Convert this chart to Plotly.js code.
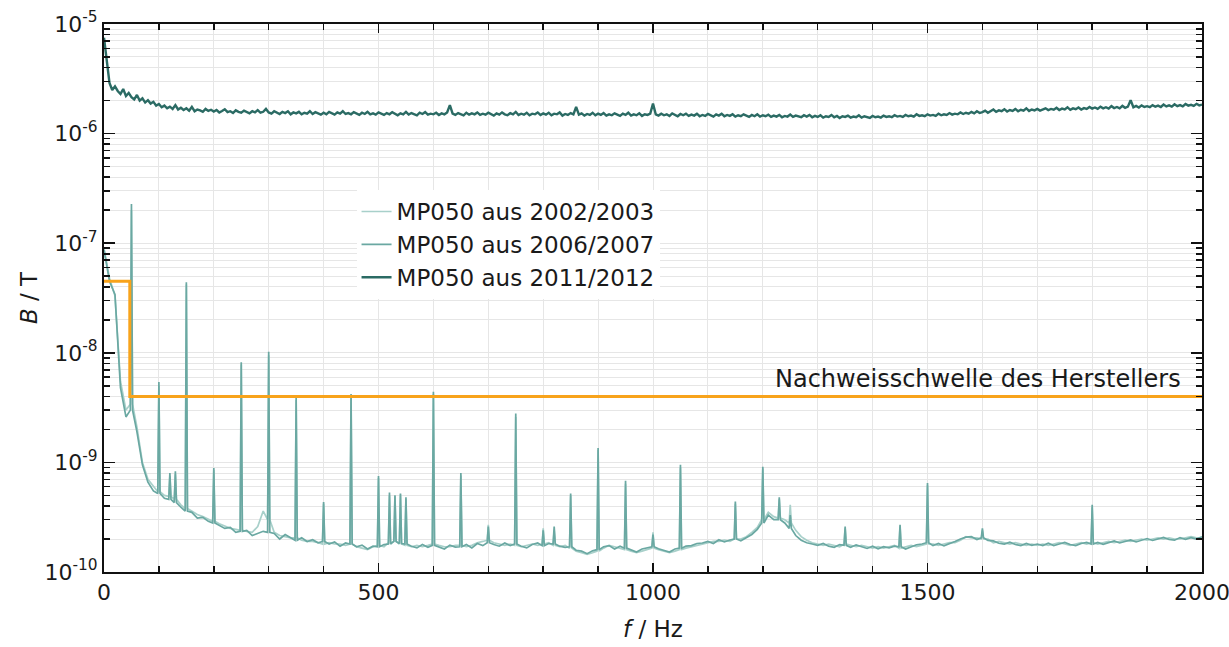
<!DOCTYPE html>
<html>
<head>
<meta charset="utf-8">
<script src="https://cdn.plot.ly/plotly-3.0.1.min.js"></script>
<style>html,body{margin:0;padding:0;background:#fff;}#chart{width:1229px;height:647px;}</style>
</head>
<body>
<div id="chart"></div>
<script>
// ---- data ----
// light series: baseline sampled every 10 Hz, values in units of 1e-10 T
const lightStepHz = 10;
const base2006_e10 = [
870,450,340,48,26,30,19,9.5,6.6,5.5,
5.2,4.7,4.6,4.3,3.9,3.6,3.5,3.1,3.15,2.9,
2.8,2.65,2.5,2.55,2.3,2.35,2.4,2.15,2.25,2.35,
2.3,2.25,2.0,2.2,2.05,1.95,2.05,1.9,1.97,1.85,
1.9,1.8,1.88,1.72,1.84,1.8,1.7,1.76,1.62,1.72,
1.7,1.78,1.8,1.9,1.82,1.8,1.72,1.66,1.78,1.68,
1.75,1.68,1.62,1.76,1.69,1.7,1.78,1.66,1.82,1.74,
1.85,1.78,1.72,1.84,1.74,1.8,1.72,1.66,1.78,1.84,
1.74,1.82,1.8,1.72,1.68,1.7,1.58,1.55,1.47,1.56,
1.6,1.7,1.74,1.62,1.72,1.65,1.58,1.52,1.62,1.66,
1.7,1.63,1.58,1.52,1.62,1.65,1.72,1.74,1.82,1.84,
1.9,1.82,1.97,1.88,1.96,2.0,1.93,2.07,2.2,2.45,
2.8,3.3,3.0,3.0,2.8,2.5,2.15,1.95,1.85,1.8,
1.75,1.82,1.72,1.68,1.78,1.75,1.68,1.77,1.7,1.64,
1.72,1.63,1.7,1.66,1.72,1.7,1.62,1.7,1.77,1.8,
1.85,1.74,1.82,1.73,1.8,1.9,2.0,2.08,2.1,1.98,
2.05,1.94,1.92,1.83,1.8,1.87,1.78,1.74,1.82,1.75,
1.8,1.74,1.83,1.74,1.8,1.86,1.78,1.74,1.82,1.86,
1.8,1.86,1.79,1.86,1.92,1.84,1.9,1.96,1.88,1.95,
2.02,1.94,2.0,2.07,1.98,1.95,2.06,1.99,2.06,2.0,
2.1];
const base2002_e10 = [
900,480,330,55,30,34,21,10,7.0,6.0,
5.4,5.0,4.9,4.6,4.1,3.8,3.6,3.35,3.2,3.0,
2.9,2.75,2.6,2.5,2.45,2.4,2.35,2.3,2.6,3.6,
3.0,2.3,2.15,2.1,2.05,2.05,1.95,1.9,1.9,1.85,
1.8,1.85,1.8,1.8,1.75,1.8,1.7,1.65,1.6,1.7,
1.75,1.7,1.85,1.9,1.8,1.75,1.7,1.75,1.7,1.75,
1.8,1.75,1.7,1.7,1.75,1.75,1.7,1.75,1.85,1.9,
1.95,1.85,1.8,1.75,1.8,1.75,1.7,1.75,1.8,1.75,
1.8,1.85,1.75,1.7,1.75,1.65,1.55,1.5,1.45,1.5,
1.55,1.65,1.75,1.7,1.65,1.6,1.55,1.5,1.55,1.6,
1.65,1.6,1.55,1.5,1.55,1.6,1.65,1.7,1.75,1.8,
1.85,1.9,1.9,1.95,1.9,2.0,2.0,2.1,2.3,2.55,
3.0,3.5,3.2,3.1,3.0,2.8,2.4,2.1,1.95,1.85,
1.8,1.75,1.8,1.75,1.7,1.8,1.75,1.7,1.75,1.7,
1.65,1.7,1.65,1.7,1.75,1.65,1.7,1.75,1.7,1.75,
1.8,1.8,1.75,1.8,1.85,1.85,1.95,2.1,2.05,2.05,
2.0,2.0,1.85,1.9,1.85,1.8,1.85,1.8,1.75,1.8,
1.75,1.8,1.75,1.8,1.85,1.8,1.75,1.8,1.85,1.8,
1.85,1.8,1.85,1.9,1.85,1.9,1.95,1.9,1.95,2.0,
1.95,2.0,2.05,2.0,2.05,2.0,2.0,2.05,2.1,2.05,
2.05];
// line peaks: frequency (Hz) and peak height (1e-10 T)
const peakFreqHz = [50,100,120,130,150,200,250,300,350,400,450,500,520,530,540,550,600,650,700,750,800,820,850,900,950,1000,1050,1150,1200,1230,1250,1350,1450,1500,1600,1800];
const peak2006_e10 = [2280,54,8.0,8.3,440,8.9,82,102,39,4.35,42,7.5,5.3,5.0,5.2,4.8,44,8.0,2.6,28,2.4,2.6,5.2,13.5,6.8,2.2,9.5,4.4,9.1,4.8,3.3,2.6,2.7,6.5,2.5,4.1];
const peak2002_e10 = [2000,50,7.5,7.8,420,8.5,78,95,37,4.2,40,7.2,5.0,4.9,5.1,4.6,42,7.6,2.7,26,2.5,2.4,5.0,13,6.4,2.3,9.0,4.2,8.8,4.6,4.1,2.5,2.6,6.2,2.4,3.9];
// dark series 2011/2012: every 5 Hz, values in units of 1e-6 T
const darkStepHz = 5;
const b2011_e6 = [
7.5,4.6,2.9,2.5,2.7,2.45,2.3,2.55,2.2,2.35,2.15,2.05,2.25,2.0,2.1,1.92,2.02,1.88,1.95,1.8,
1.86,1.74,1.8,1.7,1.76,1.68,1.82,1.66,1.72,1.64,1.7,1.62,1.75,1.6,1.66,1.63,1.58,1.68,1.61,1.65,
1.59,1.64,1.56,1.61,1.67,1.57,1.6,1.54,1.63,1.58,1.55,1.62,1.57,1.53,1.6,1.56,1.64,1.55,1.58,1.68,
1.56,1.52,1.6,1.55,1.51,1.58,1.54,1.6,1.5,1.56,1.53,1.58,1.5,1.55,1.52,1.6,1.51,1.57,1.53,1.49,
1.55,1.5,1.58,1.53,1.49,1.56,1.52,1.6,1.51,1.54,1.5,1.57,1.52,1.48,1.55,1.51,1.58,1.5,1.53,1.49,
1.56,1.52,1.48,1.54,1.5,1.57,1.51,1.47,1.53,1.5,1.58,1.49,1.54,1.5,1.47,1.55,1.51,1.57,1.49,1.52,
1.5,1.55,1.48,1.53,1.5,1.56,1.82,1.52,1.48,1.54,1.5,1.47,1.55,1.49,1.53,1.5,1.56,1.48,1.52,1.49,
1.55,1.5,1.46,1.53,1.49,1.56,1.5,1.47,1.54,1.5,1.58,1.48,1.52,1.49,1.55,1.47,1.52,1.5,1.56,1.48,
1.53,1.49,1.55,1.47,1.52,1.5,1.56,1.46,1.51,1.48,1.54,1.5,1.75,1.49,1.53,1.46,1.51,1.48,1.55,1.47,
1.52,1.48,1.54,1.46,1.5,1.47,1.53,1.49,1.45,1.52,1.48,1.55,1.46,1.5,1.47,1.53,1.45,1.5,1.48,1.52,
1.88,1.5,1.46,1.52,1.47,1.5,1.45,1.53,1.48,1.44,1.51,1.47,1.52,1.45,1.49,1.46,1.52,1.44,1.48,1.45,
1.51,1.46,1.43,1.5,1.46,1.52,1.44,1.48,1.45,1.5,1.43,1.47,1.44,1.5,1.45,1.42,1.48,1.44,1.5,1.43,
1.47,1.44,1.49,1.42,1.46,1.43,1.48,1.41,1.45,1.43,1.49,1.42,1.46,1.44,1.41,1.47,1.43,1.48,1.41,1.45,
1.42,1.47,1.4,1.44,1.42,1.48,1.41,1.45,1.39,1.44,1.42,1.46,1.4,1.43,1.41,1.47,1.4,1.44,1.42,1.39,
1.45,1.41,1.43,1.4,1.46,1.42,1.44,1.41,1.47,1.43,1.45,1.42,1.48,1.44,1.46,1.43,1.5,1.45,1.47,1.44,
1.5,1.46,1.48,1.45,1.52,1.47,1.5,1.48,1.54,1.49,1.52,1.5,1.56,1.51,1.55,1.52,1.58,1.53,1.6,1.54,
1.57,1.62,1.55,1.6,1.66,1.58,1.63,1.6,1.67,1.59,1.64,1.61,1.68,1.6,1.65,1.62,1.7,1.61,1.66,1.63,
1.68,1.62,1.66,1.7,1.64,1.68,1.65,1.72,1.64,1.69,1.66,1.74,1.65,1.7,1.67,1.73,1.66,1.71,1.68,1.75,
1.69,1.73,1.68,1.76,1.7,1.74,1.69,1.78,1.71,1.75,1.7,1.79,1.72,1.76,2.02,1.74,1.79,1.73,1.81,1.75,
1.78,1.74,1.82,1.76,1.8,1.75,1.84,1.77,1.81,1.76,1.85,1.78,1.82,1.77,1.86,1.8,1.83,1.79,1.87,1.81,
1.84];
// manufacturer detection threshold
const thrFreqHz = [0,47,47,2000];
const thrValT = [4.5e-8,4.5e-8,4e-9,4e-9];
const seriesNames = ['MP050 aus 2002/2003','MP050 aus 2006/2007','MP050 aus 2011/2012'];
const xTickVals = [0,500,1000,1500,2000];
const xTickText = ['0','500','1000','1500','2000'];
const yTickVals = [1e-10,1e-9,1e-8,1e-7,1e-6,1e-5];
const yTickText = ['10<sup>-10</sup>','10<sup>-9</sup>','10<sup>-8</sup>','10<sup>-7</sup>','10<sup>-6</sup>','10<sup>-5</sup>'];

// ---- build traces ----
function gridOf(n, step){ const g=[]; for(let i=0;i<n;i++) g.push(i*step); return g; }
function withPeaks(base, peaks, unit){
  const g = gridOf(base.length, lightStepHz), x=[], y=[];
  for(let i=0;i<g.length;i++){
    const k = peakFreqHz.indexOf(g[i]);
    if(k>=0){ x.push(g[i]-2,g[i],g[i]+2); y.push(base[i]*unit,peaks[k]*unit,base[i]*unit); }
    else { x.push(g[i]); y.push(base[i]*unit); }
  }
  return {x,y};
}
const s02 = withPeaks(base2002_e10, peak2002_e10, 1e-10);
const s06 = withPeaks(base2006_e10, peak2006_e10, 1e-10);
const s11 = {x: gridOf(b2011_e6.length, darkStepHz), y: b2011_e6.map(v=>v*1e-6)};

const font = 'DejaVu Sans, Liberation Sans, sans-serif';
const traces = [
  {x:s02.x, y:s02.y, name:seriesNames[0], mode:'lines', line:{color:'#a8d0ca', width:1.7}},
  {x:s06.x, y:s06.y, name:seriesNames[1], mode:'lines', line:{color:'#6aa8a2', width:1.7}},
  {x:s11.x, y:s11.y, name:seriesNames[2], mode:'lines', line:{color:'#2b6b64', width:2.4}},
  {x:thrFreqHz, y:thrValT, mode:'lines', showlegend:false, hoverinfo:'skip', line:{color:'#f8a31b', width:3}}
];

const layout = {
  width:1229, height:647,
  margin:{l:104, r:27, t:24, b:75},
  paper_bgcolor:'#fff', plot_bgcolor:'#fff',
  font:{family:font, size:23, color:'#1a1a1a'},
  showlegend:true,
  legend:{x:0.23, y:0.697, xanchor:'left', yanchor:'top', bgcolor:'#fff', borderwidth:0, font:{size:23, family:font}, tracegroupgap:0},
  xaxis:{
    range:[0,2000], tickmode:'array', tickvals:xTickVals, ticktext:xTickText, ticklabeloverflow:'allow',
    ticks:'inside', ticklen:9, tickwidth:1.5, tickcolor:'#111',
    showline:true, linecolor:'#111', linewidth:2, mirror:'ticks', zeroline:false,
    showgrid:true, gridcolor:'#e6e6e6', gridwidth:1,
    minor:{dtick:100, tick0:0, ticks:'inside', ticklen:6, tickwidth:1.5, tickcolor:'#111', showgrid:true, gridcolor:'#e6e6e6', gridwidth:1},
    tickfont:{size:22, family:font},
    title:{text:'<i>f</i> / Hz', font:{size:23, family:font}, standoff:16}
  },
  yaxis:{
    type:'log', range:[-10,-5], tickmode:'array', tickvals:yTickVals, ticktext:yTickText,
    ticks:'inside', ticklen:11, tickwidth:1.5, tickcolor:'#111',
    showline:true, linecolor:'#111', linewidth:2, mirror:'ticks', zeroline:false,
    showgrid:true, gridcolor:'#e6e6e6', gridwidth:1,
    minor:{dtick:'D1', ticks:'inside', ticklen:6, tickwidth:1.5, tickcolor:'#111', showgrid:true, gridcolor:'#e6e6e6', gridwidth:1},
    tickfont:{size:22, family:font},
    title:{text:'<i>B</i> / T', font:{size:23, family:font}, standoff:0}
  },
  annotations:[{
    text:'Nachweisschwelle des Herstellers', xref:'paper', yref:'y', x:0.983, y:Math.log10(4e-9),
    xanchor:'right', yanchor:'bottom', yshift:1, showarrow:false, font:{size:24, family:font, color:'#1a1a1a'}
  }]
};
Plotly.newPlot('chart', traces, layout, {displayModeBar:false, staticPlot:true});
</script>
</body>
</html>
